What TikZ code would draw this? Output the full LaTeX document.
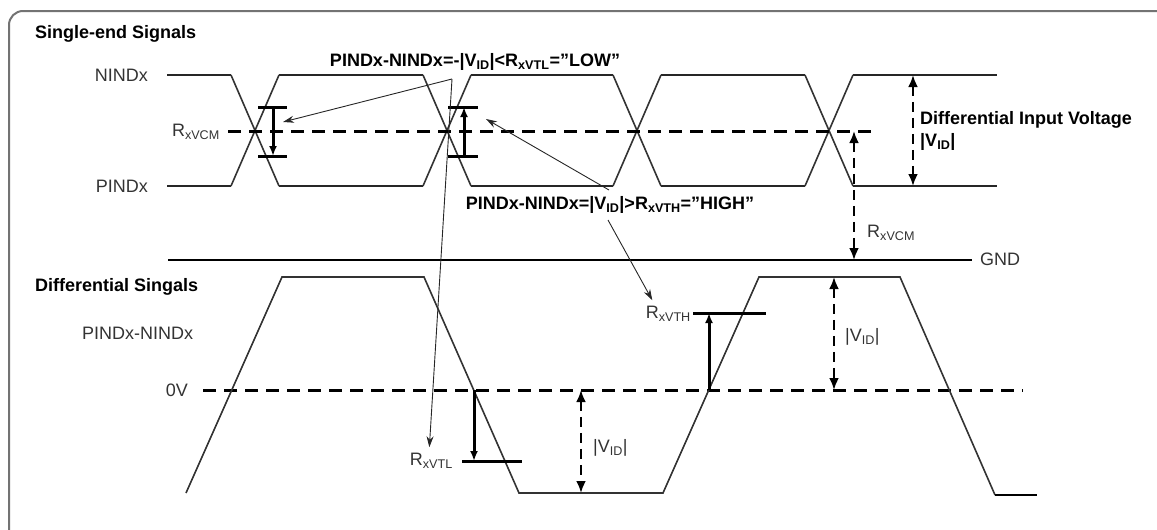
\documentclass[tikz,border=0pt]{standalone}
\usepackage{fontspec}
\setmainfont{Liberation Sans}
\usetikzlibrary{arrows.meta}

\begin{document}
\begin{tikzpicture}[x=1pt, y=-1pt,
  wave/.style={line width=1.6pt, draw=black!80},
  level/.style={line width=2pt, draw=black!85},
  midline/.style={line width=3pt, dash pattern=on 13pt off 8pt},
  bar/.style={line width=3pt},
  pointer/.style={line width=0.9pt, draw=black!85, -{Stealth[length=11pt,width=7pt]}},
  dimarrow/.style={line width=2.8pt, dash pattern=on 10pt off 6pt, {Latex[length=12pt,width=10pt]}-{Latex[length=12pt,width=10pt]}},
  lbl/.style={font=\fontsize{18}{20}\selectfont, text=black!80, inner sep=0pt},
  blbl/.style={font=\fontsize{18}{20}\selectfont\bfseries, text=black, inner sep=0pt}]
\useasboundingbox (0,0) rectangle (1157,530);
\draw[black!55, line width=2pt, rounded corners=14pt] (9,11) rectangle (1172,548);

\node[blbl, anchor=west] (single) at (35,34) {Single-end Signals};
\node[lbl, anchor=east] (nind) at (148,75) {NINDx};
\node[lbl, anchor=east] (rvcm) at (220,132) {R\textsubscript{xVCM}};
\node[lbl, anchor=east] (pind) at (148,186) {PINDx};

\foreach \a/\b in {167/231, 279/423, 471/613, 661/805, 853/997} {
  \draw[level] (\a,75) -- (\b,75);
  \draw[level] (\a,186) -- (\b,186);
}
\foreach \t in {231,423,613,805} {
  \draw[wave] (\t,75) -- (\t+48,186);
  \draw[wave] (\t,186) -- (\t+48,75);
}
\draw[midline] (228,131) -- (872,131);

\draw[bar] (258,107) -- (287,107);
\draw[bar] (258,156) -- (287,156);
\draw[bar, -{Latex[length=10pt,width=8pt]}] (273,107) -- (273,156);
\draw[bar] (448,107) -- (478,107);
\draw[bar] (448,156) -- (478,156);
\draw[bar, -{Latex[length=10pt,width=8pt]}] (464,156) -- (464,107);

\node[blbl] (low) at (475,62) {PINDx-NINDx=-|V\textsubscript{ID}|<R\textsubscript{xVTL}="LOW"};
\node[blbl] (high) at (610,205) {PINDx-NINDx=|V\textsubscript{ID}|>R\textsubscript{xVTH}="HIGH"};
\coordinate (lowtip) at (452,79);
\coordinate (hightop) at (609,190);
\coordinate (highbot) at (608,220);

\draw[dimarrow] (913,75) -- (913,186);
\node[blbl, anchor=west] (diff) at (920,120) {Differential Input Voltage};
\node[blbl, anchor=west] (vid) at (920,142) {|V\textsubscript{ID}|};
\draw[dimarrow] (854,131) -- (854,260);
\node[lbl, anchor=west] (rvcm2) at (867,233) {R\textsubscript{xVCM}};

\draw[line width=2.6pt] (168,260) -- (972,260);
\node[lbl, anchor=west] (gnd) at (980,259) {GND};

\node[blbl, anchor=west] (dsig) at (35,287) {Differential Singals};
\node[lbl, anchor=west] (pn) at (82,333) {PINDx-NINDx};
\node[lbl, anchor=east] (zero) at (188,390) {0V};
\draw[midline] (203,390) -- (1023,390);

\draw[wave] (186,493) -- (282,277) -- (424,277) -- (519,493) -- (663,493) -- (759,277) -- (900,277) -- (995,495);
\draw[line width=2.6pt] (995,495) -- (1037,495);

\draw[bar] (462,461) -- (522,461);
\draw[bar, -{Latex[length=10pt,width=8pt]}] (474,390) -- (474,461);
\node[lbl, anchor=east] (rvtl) at (453,461) {R\textsubscript{xVTL}};
\draw[dimarrow] (581,390) -- (581,493);
\node[lbl, anchor=west] (vid1) at (593,448) {|V\textsubscript{ID}|};

\draw[bar] (693,313) -- (766,313);
\draw[bar, -{Latex[length=10pt,width=8pt]}] (709,390) -- (709,313);
\node[lbl, anchor=east] (rvth) at (691,314) {R\textsubscript{xVTH}};
\draw[dimarrow] (834,277) -- (834,390);
\node[lbl, anchor=west] (vid2) at (845,337) {|V\textsubscript{ID}|};

\draw[pointer] (lowtip) -- (283,122);
\draw[pointer] (lowtip) -- ([xshift=-2pt,yshift=6pt]rvtl.north);
\draw[pointer] (hightop) -- (486,119);
\draw[pointer] (highbot) -- ([xshift=-16pt,yshift=6pt]rvth.north);
\end{tikzpicture}
\end{document}
